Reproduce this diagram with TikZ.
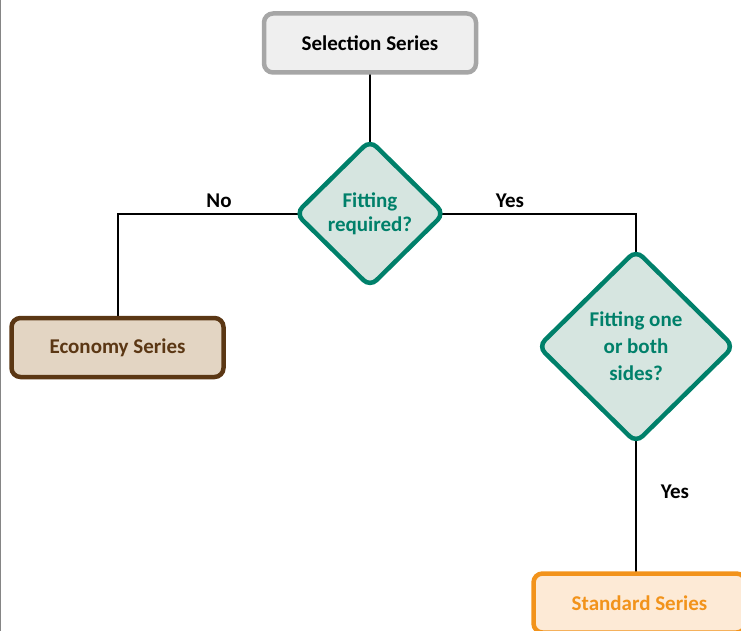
\documentclass[tikz,border=0pt]{standalone}
\usepackage{fontspec}
\setmainfont{Carlito}
\usetikzlibrary{shapes.geometric,backgrounds}
\definecolor{grayb}{HTML}{A6A6A6}
\definecolor{grayf}{HTML}{EFEFEF}
\definecolor{teal1}{HTML}{00806A}
\definecolor{tealf}{HTML}{D6E5E0}
\definecolor{brownb}{HTML}{5B3714}
\definecolor{brownf}{HTML}{E3D5C3}
\definecolor{orangeb}{HTML}{F2931B}
\definecolor{orangef}{HTML}{FDEAD6}
\tikzset{
  boxnode/.style={rectangle, rounded corners=9pt, line width=4.5pt, minimum width=212pt, minimum height=59pt, inner sep=0pt, font=\bfseries\fontsize{21}{25}\selectfont},
  decnode/.style={diamond, aspect=1, rounded corners=9pt, line width=4.5pt, draw=teal1, fill=tealf, text=teal1, inner sep=0pt, align=center},
  conn/.style={line width=2pt, black},
  lbl/.style={font=\bfseries\fontsize{21}{25}\selectfont, inner sep=0pt}
}
\begin{document}
\begin{tikzpicture}[x=1pt,y=-1pt]
\useasboundingbox (0,0) rectangle (741,631);
\clip (0,0) rectangle (741,631);
\draw[grayb!80!black, line width=1pt] (0.5,0) -- (0.5,631);
\node[boxnode, draw=grayb, fill=grayf, text=black] (sel) at (370,43) {Selection Series};
\node[decnode, minimum width=150pt, minimum height=148pt, font=\bfseries\fontsize{21}{24}\selectfont] (d1) at (370,213.5) {Fitting\\required?};
\node[decnode, minimum width=197pt, minimum height=194pt, font=\bfseries\fontsize{21}{27}\selectfont] (d2) at (636,346.5) {Fitting one\\or both\\sides?};
\node[boxnode, draw=brownb, fill=brownf, text=brownb] (eco) at (117.5,347.5) {Economy Series};
\node[boxnode, draw=orangeb, fill=orangef, text=orangeb] (std) at (639.5,603) {Standard Series};
\coordinate (cl) at (118,213.5);
\coordinate (cr) at (636,213.5);
\begin{scope}[on background layer]
\draw[conn] (sel.center) -- (d1.center);
\draw[conn] (d1.center) -- (cl) -- (cl |- eco.center);
\draw[conn] (d1.center) -- (cr) -- (d2.center);
\draw[conn] (d2.center) -- (d2.center |- std.center);
\end{scope}
\node[lbl] (no) at (219,201) {No};
\node[lbl] (yes1) at (510,201) {Yes};
\node[lbl] (yes2) at (675,492) {Yes};
\end{tikzpicture}
\end{document}
